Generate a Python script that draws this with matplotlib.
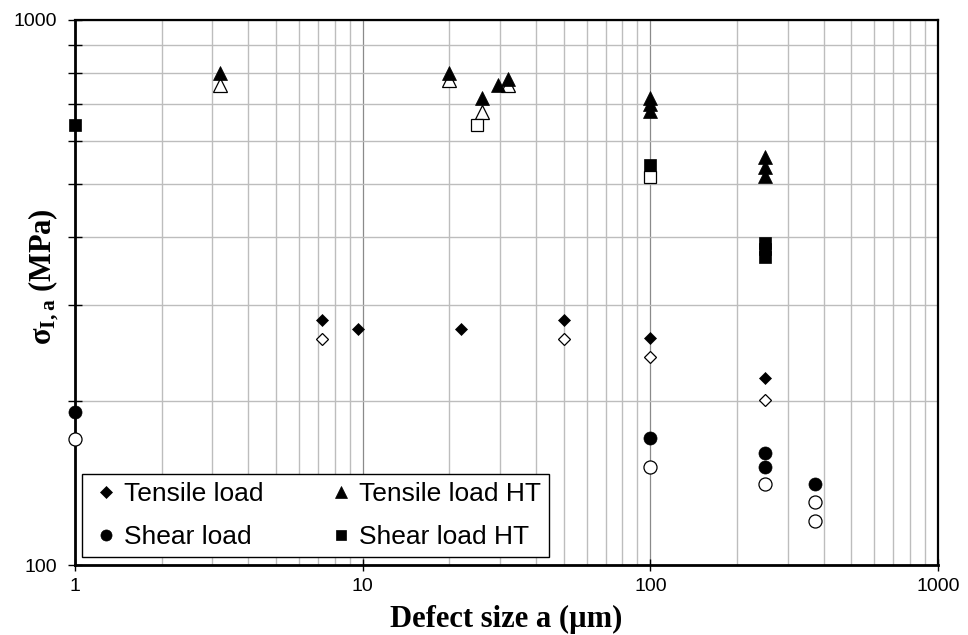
import matplotlib
matplotlib.use("Agg")
import matplotlib.pyplot as plt
from matplotlib.ticker import LogLocator, NullFormatter, FixedLocator, FixedFormatter

# ---- data ----
tens_x = [7.2, 9.6, 22, 50, 100, 250]
tens_y = [281, 271, 271, 281, 261, 220]
tens_open_x = [7.2, 50, 100, 250]
tens_open_y = [260, 260, 241, 201]

tensHT_x = [3.2, 20, 26, 29.5, 32, 100, 100, 100, 250, 250, 250]
tensHT_y = [798, 800, 720, 760, 779, 720, 701, 681, 561, 537, 517]
tensHT_open_x = [3.2, 20, 26, 32]
tensHT_open_y = [760, 776, 678, 760]

shear_x = [1, 100, 250, 250, 375]
shear_y = [191, 171, 160.5, 151, 141]
shear_open_x = [1, 100, 250, 375, 375]
shear_open_y = [170, 151, 141, 130.5, 120.5]

shearHT_x = [1, 100, 250, 250, 250]
shearHT_y = [641, 542, 390, 380, 368]
shearHT_open_x = [25, 100]
shearHT_open_y = [641, 515]

x_ticks = [1, 10, 100, 1000]
x_ticklabels = ["1", "10", "100", "1000"]
y_ticks = [100, 1000]
y_ticklabels = ["100", "1000"]

# ---- figure ----
plt.rcParams['font.family'] = ['Liberation Sans', 'DejaVu Sans']
plt.rcParams['mathtext.fontset'] = 'custom'
plt.rcParams['mathtext.rm'] = 'Liberation Serif:bold'
plt.rcParams['mathtext.bf'] = 'Liberation Serif:bold'
plt.rcParams['mathtext.it'] = 'Liberation Serif:bold'

fig = plt.figure(figsize=(9.68, 6.35), dpi=100)
ax = fig.add_axes([75/968, 70/635, 863/968, 545/635])
ax.set_xscale('log')
ax.set_yscale('log')
ax.set_xlim(1, 1000)
ax.set_ylim(100, 1000)

ax.grid(True, which='major', color='#8a8a8a', linewidth=0.9)
ax.grid(True, which='minor', color='#bdbdbd', linewidth=1.0)
ax.set_axisbelow(True)

ax.xaxis.set_major_locator(FixedLocator(x_ticks))
ax.xaxis.set_major_formatter(FixedFormatter(x_ticklabels))
ax.xaxis.set_minor_locator(LogLocator(base=10, subs=range(2, 10)))
ax.xaxis.set_minor_formatter(NullFormatter())
ax.yaxis.set_major_locator(FixedLocator(y_ticks))
ax.yaxis.set_major_formatter(FixedFormatter(y_ticklabels))
ax.yaxis.set_minor_locator(LogLocator(base=10, subs=range(2, 10)))
ax.yaxis.set_minor_formatter(NullFormatter())

ax.tick_params(axis='x', which='major', direction='inout', length=9, width=1, labelsize=14, pad=5)
ax.tick_params(axis='x', which='minor', length=0)
ax.tick_params(axis='y', which='major', direction='inout', length=10, width=1, labelsize=14, pad=8)
ax.tick_params(axis='y', which='minor', direction='inout', length=10, width=1)

for s in ['left', 'bottom']:
    ax.spines[s].set_linewidth(2.0)
for s in ['top', 'right']:
    ax.spines[s].set_linewidth(1.6)

ms_tri = 9.5
ms_circ = 9.4
ms_sq = 9.0
ms_dia = 6.6
kw = dict(ls='none', clip_on=False)

ax.plot(tens_x, tens_y, 'D', color='black', ms=ms_dia, mew=0.5, label='Tensile load', zorder=3, **kw)
ax.plot(tens_open_x, tens_open_y, 'D', mfc='white', mec='black', ms=ms_dia, mew=0.9, zorder=3, **kw)

ax.plot(tensHT_open_x, tensHT_open_y, '^', mfc='white', mec='black', ms=ms_tri, mew=0.9, zorder=3, **kw)
ax.plot(tensHT_x, tensHT_y, '^', color='black', ms=ms_tri, mew=0.5, label='Tensile load HT', zorder=4, **kw)

ax.plot(shear_x, shear_y, 'o', color='black', ms=ms_circ, mew=0.5, label='Shear load', zorder=3, **kw)
ax.plot(shear_open_x, shear_open_y, 'o', mfc='white', mec='black', ms=ms_circ, mew=0.9, zorder=3, **kw)

ax.plot(shearHT_x, shearHT_y, 's', color='black', ms=ms_sq, mew=0.5, label='Shear load HT', zorder=4, **kw)
ax.plot(shearHT_open_x, shearHT_open_y, 's', mfc='white', mec='black', ms=ms_sq, mew=0.9, zorder=3, **kw)

h, l = ax.get_legend_handles_labels()
order = [0, 2, 1, 3]
leg = ax.legend([h[i] for i in order], [l[i] for i in order], ncol=2,
                loc='lower left', bbox_to_anchor=(7/863, 8/545),
                fontsize=19, frameon=True, fancybox=False,
                edgecolor='black', framealpha=1, markerscale=0.85,
                handlelength=1.25, handletextpad=0.05, borderaxespad=0,
                columnspacing=2.32, labelspacing=0.72, borderpad=0.3)
leg.get_frame().set_linewidth(1.0)
leg.set_zorder(10)

ax.set_xlabel('Defect size a (µm)', fontfamily='Liberation Serif', fontweight='bold', fontsize=22)
ax.xaxis.set_label_coords(0.5, -0.073)
ax.set_ylabel(r'$\mathbf{σ_{I,a}}$ (MPa)', fontfamily='Liberation Serif', fontweight='bold', fontsize=22)
ax.yaxis.set_label_coords(-0.016, 0.53)

fig.savefig('out.png', dpi=100)
